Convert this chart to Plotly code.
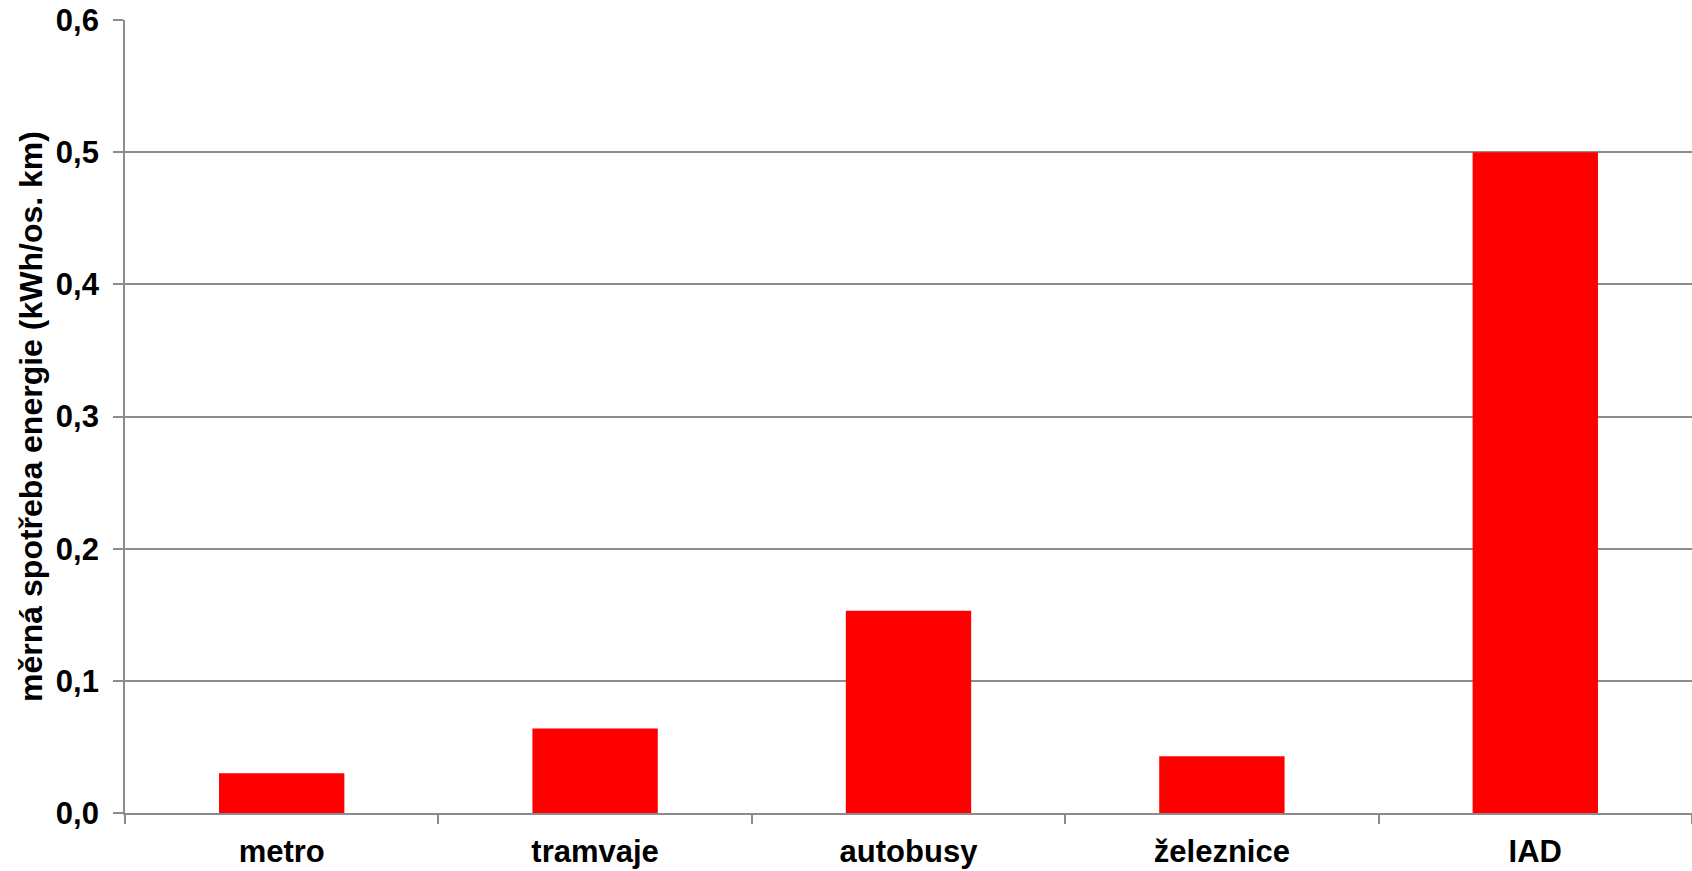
import plotly.graph_objects as go

categories = ["metro", "tramvaje", "autobusy", "železnice", "IAD"]
values = [0.030, 0.064, 0.153, 0.043, 0.500]
y_ticks = [0.0, 0.1, 0.2, 0.3, 0.4, 0.5, 0.6]
y_tick_labels = ["0,0", "0,1", "0,2", "0,3", "0,4", "0,5", "0,6"]
y_title = "měrná spotřeba energie (kWh/os. km)"

FONT = "Liberation Sans, Arial, sans-serif"
GRID = "#8c8c8c"

fig = go.Figure(
    go.Bar(x=categories, y=values, marker=dict(color="#ff0000", line=dict(width=0)))
)

fig.update_layout(
    width=1692,
    height=871,
    margin=dict(l=125, r=0, t=20, b=58),
    paper_bgcolor="white",
    plot_bgcolor="white",
    bargap=0.6,
    showlegend=False,
    font=dict(family=FONT, color="black"),
)

fig.update_xaxes(
    showline=True,
    linecolor=GRID,
    linewidth=2,
    ticks="outside",
    tickson="boundaries",
    ticklen=9,
    tickwidth=1.5,
    tickcolor=GRID,
    showgrid=False,
    ticklabelstandoff=10,
    tickfont=dict(family=FONT, size=31, color="black", weight="bold"),
)

fig.update_yaxes(
    range=[0, 0.6],
    tickvals=y_ticks,
    ticktext=y_tick_labels,
    showgrid=True,
    gridcolor=GRID,
    gridwidth=1.5,
    zeroline=False,
    showline=True,
    linecolor=GRID,
    linewidth=1.7,
    ticks="outside",
    ticklen=10,
    tickwidth=1.5,
    tickcolor=GRID,
    ticklabelstandoff=8,
    tickfont=dict(family=FONT, size=31, color="black", weight="bold"),
    title=dict(text=y_title, font=dict(family=FONT, size=32, color="black", weight="bold"), standoff=4),
)

fig.write_html("out.html")
